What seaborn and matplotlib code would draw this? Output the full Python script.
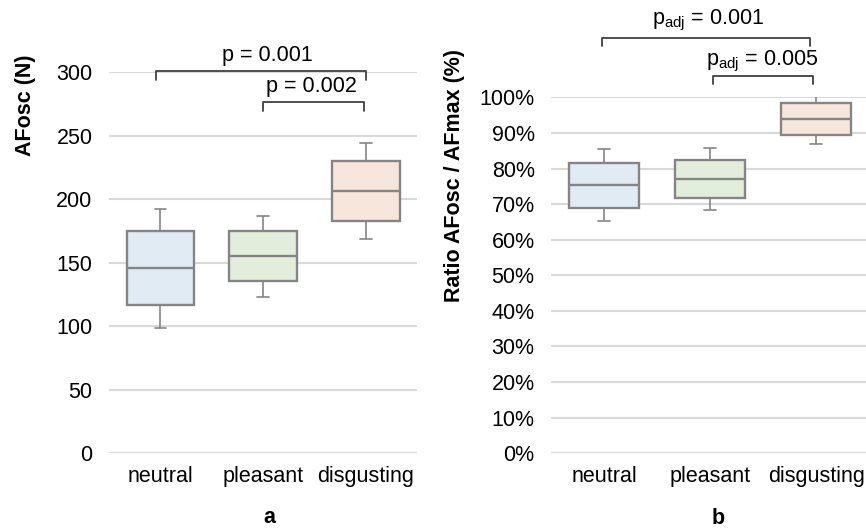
import numpy as np
import pandas as pd
import seaborn as sns
import matplotlib.pyplot as plt
from matplotlib.ticker import PercentFormatter

# five-number summaries (min, q1, median, q3, max)
conditions = ['neutral', 'pleasant', 'disgusting']
afosc_neutral = [98.8, 116.6, 145.5, 175.0, 192.0]
afosc_pleasant = [123.0, 135.5, 155.0, 175.0, 186.5]
afosc_disgusting = [168.5, 183.0, 206.5, 230.0, 244.0]

ratio_neutral = [0.652, 0.690, 0.753, 0.815, 0.855]
ratio_pleasant = [0.683, 0.716, 0.770, 0.824, 0.858]
ratio_disgusting = [0.868, 0.895, 0.939, 0.983, 1.009]

# significance brackets: (left, right, height, drop, label, text x, text y)
sig_a = [(-0.04, 2.0, 301, 7, 'p = 0.001', 1.04, 305),
         (1.0, 1.98, 276, 6.5, 'p = 0.002', 1.47, 280)]
sig_b = [(-0.02, 1.94, 1.167, 0.022, r'$\mathregular{p_{adj}}$ = 0.001', 0.975, 1.18),
         (1.03, 1.97, 1.06, 0.023, r'$\mathregular{p_{adj}}$ = 0.005', 1.49, 1.066)]

colors = ['#deebf7', '#e2f0d9', '#fbe5d6']
FS = 15.5

sns.set_theme(style='white')
plt.rcParams['font.family'] = ['Liberation Sans', 'DejaVu Sans']
plt.rcParams['font.size'] = FS
plt.rcParams['text.color'] = 'black'
plt.rcParams['axes.labelcolor'] = 'black'


def make_df(vals):
    rows = []
    for c, v in zip(conditions, vals):
        for x in v:
            rows.append({'cond': c, 'val': x})
    return pd.DataFrame(rows)


def draw_box(ax, df):
    sns.boxplot(data=df, x='cond', y='val', hue='cond', palette=colors,
                legend=False, ax=ax, width=0.66, whis=(0, 100),
                linecolor='#858585', linewidth=1.7,
                whiskerprops=dict(linewidth=1.2), capprops=dict(linewidth=1.2))
    # shorter caps like the original
    for cont in ax.containers:
        if hasattr(cont, 'caps'):
            for cap in cont.caps:
                xd = np.asarray(cap.get_xdata(), dtype=float)
                mid = xd.mean()
                cap.set_xdata(mid + (xd - mid) * 0.35)
    ax.set_xlim(-0.5, 2.5)
    ax.grid(axis='y', color='#d9d9d9', linewidth=1.5)
    ax.set_axisbelow(True)
    for s in ax.spines.values():
        s.set_visible(False)
    ax.tick_params(axis='both', length=0, labelsize=FS, colors='black')
    ax.tick_params(axis='y', pad=12)
    ax.tick_params(axis='x', pad=9)


def draw_sig(ax, sigs):
    for x0, x1, h, d, lab, tx, ty in sigs:
        ax.plot([x0, x0, x1, x1], [h - d, h, h, h - d], color='#404040',
                linewidth=1.3, clip_on=False)
        ax.text(tx, ty, lab, ha='center', va='bottom', fontsize=FS)


fig = plt.figure(figsize=(8.66, 5.28), dpi=100)
ax_a = fig.add_axes([0.126, 0.142, 0.3555, 0.7216])
ax_b = fig.add_axes([0.6366, 0.1415, 0.3672, 0.6742])

draw_box(ax_a, make_df([afosc_neutral, afosc_pleasant, afosc_disgusting]))
ax_a.set_ylim(0, 300)
ax_a.set_yticks(np.arange(0, 301, 50))
draw_sig(ax_a, sig_a)
ax_a.set_ylabel('AFosc (N)', fontweight='bold', fontsize=FS, va='center')
ax_a.yaxis.set_label_coords(-0.273, 0.913)
ax_a.set_xlabel('a', fontweight='bold', fontsize=FS, va='center')
ax_a.xaxis.set_label_coords(0.52, -0.168)

draw_box(ax_b, make_df([ratio_neutral, ratio_pleasant, ratio_disgusting]))
ax_b.set_ylim(0, 1.0)
ax_b.set_yticks(np.arange(0, 1.01, 0.1))
ax_b.yaxis.set_major_formatter(PercentFormatter(1.0, decimals=0))
draw_sig(ax_b, sig_b)
ax_b.set_ylabel('Ratio AFosc / AFmax (%)', fontweight='bold', fontsize=FS, va='center')
ax_b.yaxis.set_label_coords(-0.304, 0.78)
ax_b.set_xlabel('b', fontweight='bold', fontsize=FS, va='center')
ax_b.xaxis.set_label_coords(0.524, -0.183)

fig.savefig('out.png', dpi=100)
